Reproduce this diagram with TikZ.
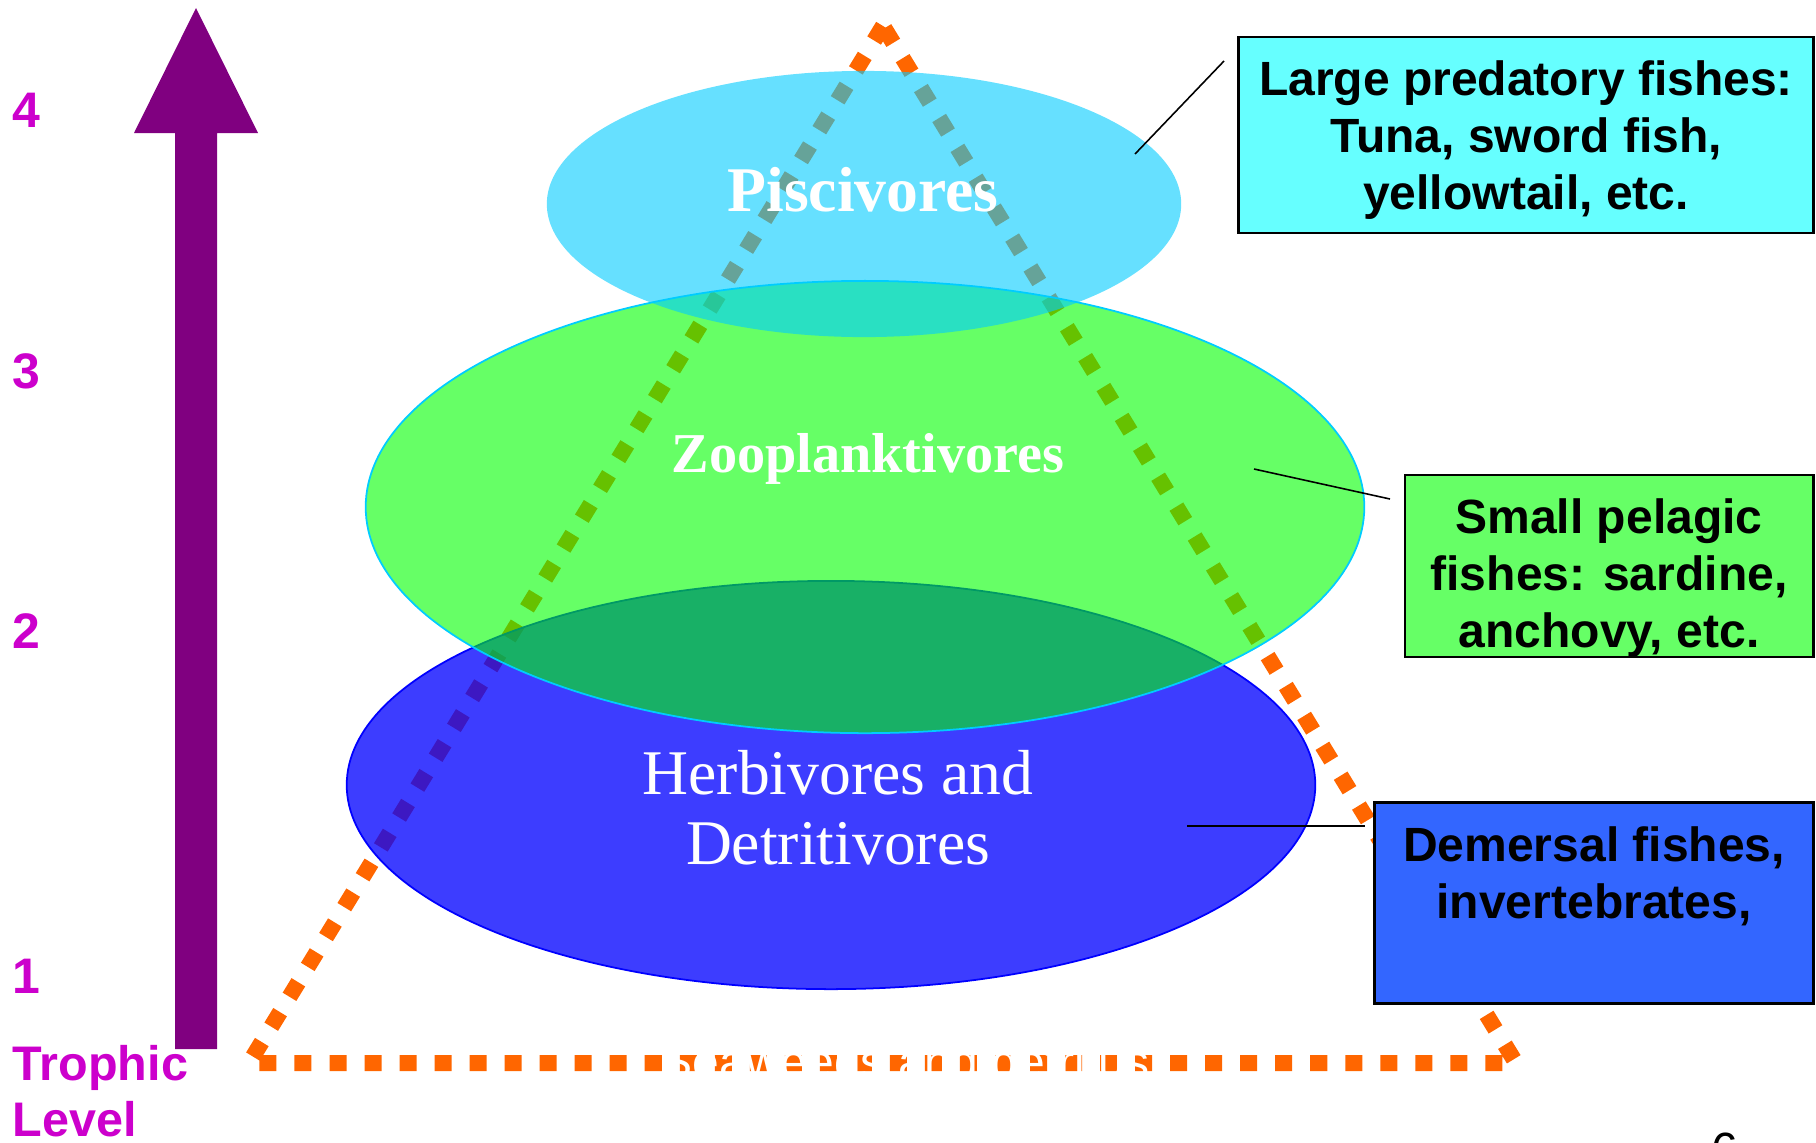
\documentclass[tikz,border=0pt]{standalone}
\usepackage{fontspec}
\setmainfont{Liberation Serif}
\setsansfont{Liberation Sans}
\usepackage{tikz}
\usetikzlibrary{shapes.geometric}
\definecolor{troph}{RGB}{204,0,204}
\definecolor{shaft}{RGB}{128,0,128}
\definecolor{pyramid}{RGB}{255,102,0}
\definecolor{piscblue}{RGB}{0,204,255}
\definecolor{zoogreen}{RGB}{0,255,0}
\definecolor{herbblue}{RGB}{0,0,255}
\tikzstyle{level} = [text=troph, anchor=west, inner sep=0pt, font={\fontsize{14.2}{15.9}\selectfont\sffamily\bfseries}]
\tikzstyle{dots} = [draw=pyramid, line width=4.55pt, dash pattern=on 4.84pt off 5.12pt]
\tikzstyle{group} = [ellipse, inner sep=0pt]
\tikzstyle{grouplab} = [text=white, inner sep=0pt]
\tikzstyle{info} = [draw=black, line width=0.8pt, align=center, inner sep=0pt, font={\fontsize{13.66}{16.2}\selectfont\sffamily\bfseries}]
\tikzstyle{callout} = [draw=black, line width=0.45pt]

\begin{document}
\begin{tikzpicture}[x=0.01cm,y=-0.01cm]
  \useasboundingbox (0,0) rectangle (1816,1142);
  \fill[shaft] (175,1049) -- (217,1049) -- (217,133) -- (258,133) -- (196,8)
    -- (134,133) -- (175,133) -- cycle;
  \node[level](4) at (12,110){4};
  \node[level](3) at (12,371){3};
  \node[level](2) at (12,631){2};
  \node[level](1) at (12,976){1};
  \node[level,anchor=base west,align=left,font={\fontsize{13.8}{15.9}\selectfont\sffamily\bfseries}](tl) at (12,1136){Trophic\\Level};
  \coordinate (apex) at (883,26);
  \coordinate (bl) at (249,1063);
  \coordinate (br) at (1516,1063);
  \draw[dots] (apex) -- (bl) -- (br) -- cycle;
  \node[grouplab,anchor=base,font={\fontsize{13.66}{16}\selectfont\sffamily}](base) at (905,1078){Seaweeds and detritus};
  \node[group,fill=herbblue,fill opacity=0.76,draw=herbblue,line width=0.5pt,
    minimum width=9.68cm,minimum height=4.08cm](herb) at (831,785){};
  \node[group,fill=zoogreen,fill opacity=0.6,draw=piscblue,line width=0.5pt,
    minimum width=9.98cm,minimum height=4.52cm](zoo) at (865,507){};
  \node[group,fill=piscblue,fill opacity=0.6,
    minimum width=6.34cm,minimum height=2.66cm](pisc) at (864,204){};
  \node[grouplab,anchor=base,font={\fontsize{18.1}{20}\selectfont\bfseries}](pisclab) at (863,211){Piscivores};
  \node[grouplab,anchor=base,font={\fontsize{16}{18}\selectfont\bfseries}](zoolab) at (868,472){Zooplanktivores};
  \node[grouplab,align=center,font={\fontsize{18.1}{19.9}\selectfont}](herblab) at (838,808){Herbivores and\\Detritivores};
  \node[info,fill={rgb,255:red,102;green,255;blue,255},minimum width=5.74cm,minimum height=1.96cm](large) at (1526,135)
    {\rule{0pt}{12.6pt}Large predatory fishes:\\Tuna, sword fish,\\yellowtail, etc.};
  \node[info,fill={rgb,255:red,102;green,255;blue,102},minimum width=4.08cm,minimum height=1.82cm](small) at (1609,566)
    {\rule{0pt}{16.5pt}Small pelagic\\fishes: sardine,\\anchovy, etc.};
  \node[info,fill={rgb,255:red,51;green,102;blue,255},minimum width=4.38cm,minimum height=2.01cm](dem) at (1594,903)
    {Demersal fishes,\\invertebrates,\\\rule[-1.3pt]{0pt}{1pt}};
  \coordinate (p1) at (1135,154);
  \coordinate (p2) at (1224,61);
  \coordinate (z1) at (1254,469);
  \coordinate (z2) at (1390,499);
  \coordinate (h1) at (1187,826);
  \coordinate (h2) at (1365,826);
  \draw[callout](p1)--(p2);
  \draw[callout](z1)--(z2);
  \draw[callout](h1)--(h2);
  \node[anchor=base,inner sep=0pt,font={\fontsize{13.66}{16}\selectfont\sffamily}](page) at (1725,1166){6};
\end{tikzpicture}
\end{document}
